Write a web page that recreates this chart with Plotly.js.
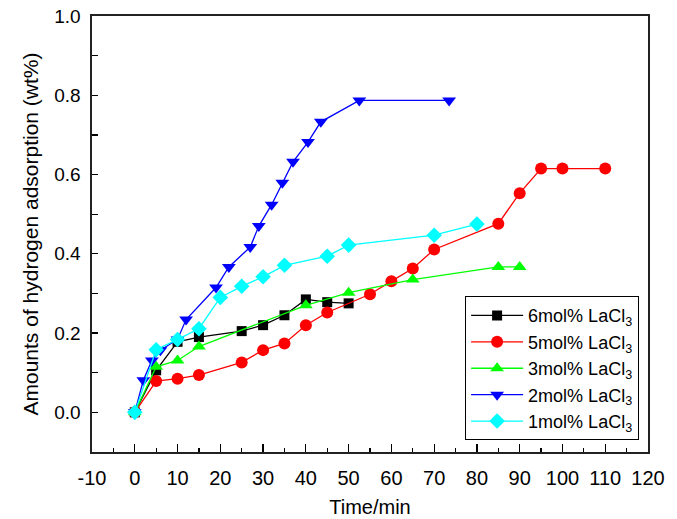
<!DOCTYPE html>
<html>
<head>
<meta charset="utf-8">
<script src="https://cdn.plot.ly/plotly-3.0.1.min.js"></script>
<style>html,body{margin:0;padding:0;background:#fff;}#chart{width:677px;height:519px;}</style>
</head>
<body>
<div id="chart"></div>
<script>
// Series names
const seriesNames = ["6mol% LaCl<sub>3</sub>", "5mol% LaCl<sub>3</sub>", "3mol% LaCl<sub>3</sub>", "2mol% LaCl<sub>3</sub>", "1mol% LaCl<sub>3</sub>"];

// 6mol% LaCl3
const x6 = [0, 5, 10, 15, 25, 30, 35, 40, 45, 50];
const y6 = [0, 0.106, 0.178, 0.19, 0.205, 0.22, 0.245, 0.285, 0.278, 0.275];

// 5mol% LaCl3
const x5 = [0, 5, 10, 15, 25, 30, 35, 40, 45, 55, 60, 65, 70, 85, 90, 95, 100, 110];
const y5 = [0, 0.079, 0.085, 0.094, 0.126, 0.157, 0.174, 0.22, 0.252, 0.298, 0.331, 0.363, 0.411, 0.476, 0.553, 0.615, 0.615, 0.615];

// 3mol% LaCl3
const x3 = [0, 5, 10, 15, 40, 50, 65, 85, 90];
const y3 = [0, 0.115, 0.131, 0.166, 0.27, 0.302, 0.335, 0.367, 0.367];

// 2mol% LaCl3
const x2 = [0, 2, 4, 6, 10, 12, 19, 22, 27, 29, 32, 34.5, 37, 40.5, 43.5, 52.5, 73.5];
const y2 = [0, 0.081, 0.131, 0.157, 0.184, 0.234, 0.315, 0.367, 0.417, 0.47, 0.524, 0.579, 0.632, 0.682, 0.733, 0.787, 0.787];

// 1mol% LaCl3
const x1 = [0, 5, 10, 15, 20, 25, 30, 35, 45, 50, 70, 80];
const y1 = [0, 0.158, 0.184, 0.211, 0.29, 0.318, 0.342, 0.371, 0.394, 0.422, 0.447, 0.475];

const xTickVals = [-10, 0, 10, 20, 30, 40, 50, 60, 70, 80, 90, 100, 110, 120];
const yTickVals = [0, 0.2, 0.4, 0.6, 0.8, 1.0];

const colors = ["#000000", "#ff0000", "#00ff00", "#0000ff", "#00ffff"];
const symbols = ["square", "circle", "triangle-up", "triangle-down", "diamond"];
const sizes = [10, 12, 12, 12, 12];
const xs = [x6, x5, x3, x2, x1];
const ys = [y6, y5, y3, y2, y1];

const traces = seriesNames.map((n, i) => ({
  x: xs[i], y: ys[i], name: n, type: "scatter", mode: "lines+markers",
  line: {color: colors[i], width: 1.3},
  marker: {symbol: symbols[i], size: sizes[i], color: colors[i]}
}));

const font = {family: "Arial, 'Liberation Sans', sans-serif", color: "#000"};

const layout = {
  width: 677, height: 519,
  margin: {l: 92, r: 29, t: 16, b: 67},
  paper_bgcolor: "#fff", plot_bgcolor: "#fff",
  font: Object.assign({size: 18}, font),
  showlegend: true,
  legend: {
    x: 0.984, xanchor: "right", y: 0.027, yanchor: "bottom",
    bordercolor: "#000", borderwidth: 1, bgcolor: "#fff",
    itemwidth: 52,
    font: Object.assign({size: 18}, font)
  },
  xaxis: {
    range: [-10, 120], tickvals: xTickVals, ticktext: xTickVals.map(String),
    ticks: "inside", ticklen: 8, tickwidth: 1.2, tickcolor: "#000",
    minor: {dtick: 5, ticks: "inside", ticklen: 4, tickwidth: 1.2, tickcolor: "#000"},
    showgrid: false, zeroline: false,
    showline: true, linecolor: "#222", linewidth: 1.6, mirror: true,
    ticklabelstandoff: 7,
    tickfont: Object.assign({size: 20}, font),
    title: {text: "Time/min", font: Object.assign({size: 20}, font), standoff: 12}
  },
  yaxis: {
    range: [-0.1, 1.0], tickvals: yTickVals, ticktext: yTickVals.map(v => v.toFixed(1)),
    ticks: "inside", ticklen: 6, tickwidth: 1.2, tickcolor: "#000",
    minor: {dtick: 0.1, tick0: 0, ticks: "inside", ticklen: 6, tickwidth: 1.2, tickcolor: "#000"},
    showgrid: false, zeroline: false,
    showline: true, linecolor: "#222", linewidth: 1.6, mirror: true,
    ticklabelstandoff: 6,
    tickfont: Object.assign({size: 19}, font),
    title: {text: "Amounts of hydrogen adsorption (wt%)", font: Object.assign({size: 21}, font), standoff: 10}
  }
};

Plotly.newPlot("chart", traces, layout, {displayModeBar: false, staticPlot: true});
</script>
</body>
</html>
